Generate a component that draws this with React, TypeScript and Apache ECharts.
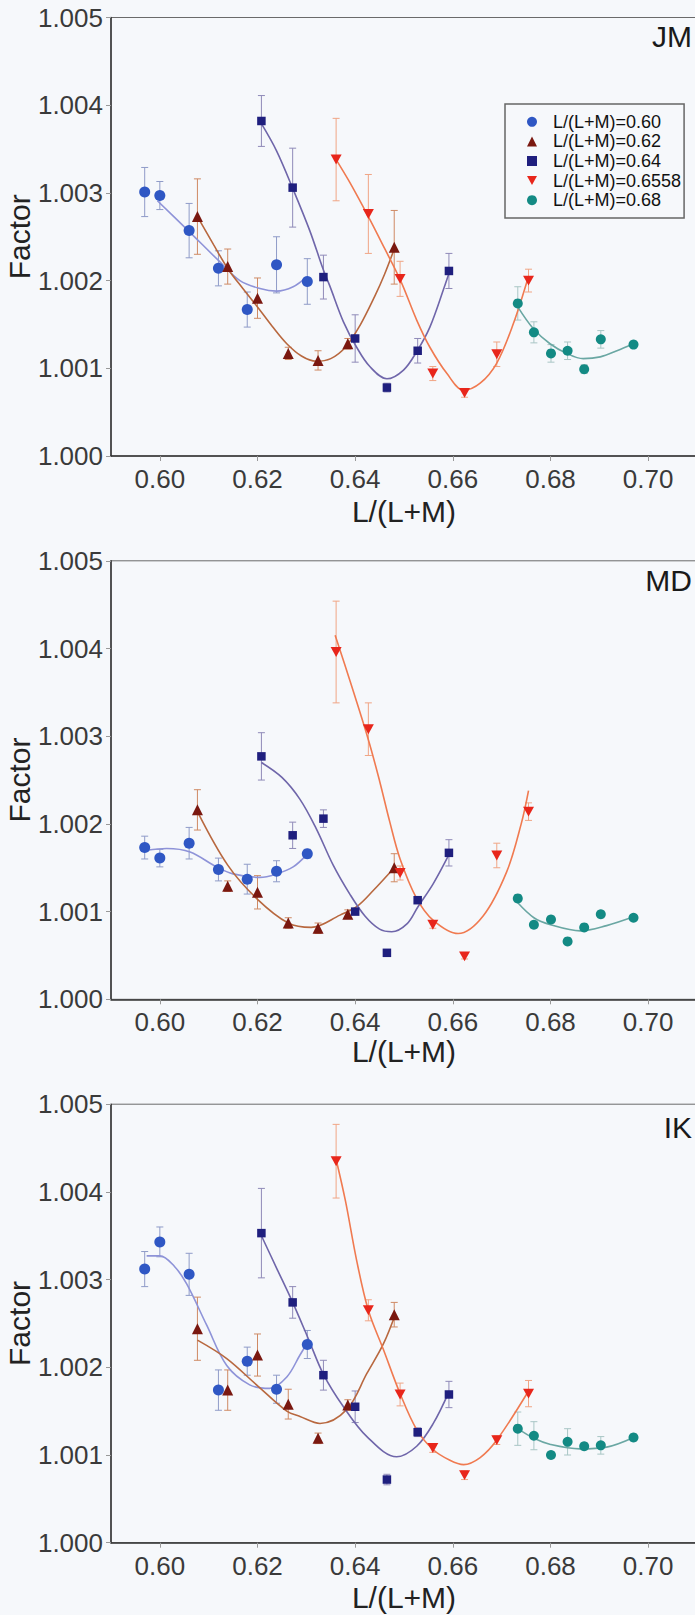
import React, { useEffect, useRef } from "react";
import * as echarts from "echarts";

// ---------- categories / labels ----------
const groupNames = ["L/(L+M)=0.60", "L/(L+M)=0.62", "L/(L+M)=0.64", "L/(L+M)=0.6558", "L/(L+M)=0.68"];
const panelNames = ["JM", "MD", "IK"];
const xTicks = [0.6, 0.62, 0.64, 0.66, 0.68, 0.7];
const xAxisTitle = "L/(L+M)";
const yAxisTitle = "Factor";

// ---------- x positions of the measured points (same for all observers) ----------
const x060 = [0.5969, 0.6, 0.606, 0.612, 0.6179, 0.6239, 0.6302];
const x062 = [0.6077, 0.6139, 0.62, 0.6263, 0.6324, 0.6385, 0.648];
const x064 = [0.6208, 0.6272, 0.6335, 0.64, 0.6465, 0.6528, 0.6592];
const x0658 = [0.6361, 0.6427, 0.6492, 0.6559, 0.6624, 0.669, 0.6755];
const x068 = [0.6733, 0.6766, 0.6801, 0.6835, 0.6869, 0.6903, 0.697];

// ---------- JM ----------
const jm060 = [1.00301, 1.00297, 1.00257, 1.00214, 1.00167, 1.00218, 1.00199];
const jm060Err = [0.00028, 0.00016, 0.00031, 0.0002, 0.0002, 0.00032, 0.00026];
const jm062 = [1.00273, 1.00216, 1.0018, 1.00117, 1.00109, 1.00128, 1.00238];
const jm062Err = [0.00043, 0.0002, 0.00023, 0.00007, 0.00011, 0.00006, 0.00042];
const jm064 = [1.00382, 1.00306, 1.00204, 1.00134, 1.00078, 1.0012, 1.00211];
const jm064Err = [0.00029, 0.00045, 0.00025, 0.00027, 0.00005, 0.00014, 0.0002];
const jm0658 = [1.00338, 1.00276, 1.00202, 1.00094, 1.00072, 1.00116, 1.002];
const jm0658Err = [0.00047, 0.00045, 0.0002, 0.00008, 0.00005, 0.00014, 0.00013];
const jm068 = [1.00174, 1.00141, 1.00117, 1.0012, 1.00099, 1.00133, 1.00127];
const jm068Err = [0.00019, 0.00012, 0.0001, 0.0001, 0.00005, 0.0001, 0.00004];

const jmFit060 = [[0.5995, 1.00291], [0.6058, 1.00257], [0.612, 1.00223], [0.6164, 1.002], [0.6205, 1.00191], [0.6239, 1.00188], [0.6273, 1.00193], [0.63, 1.00204]];
const jmFit062 = [[0.6077, 1.00273], [0.611, 1.00241], [0.614, 1.00213], [0.617, 1.00191], [0.62, 1.0017], [0.623, 1.00148], [0.626, 1.00128], [0.629, 1.00114], [0.632, 1.00108], [0.635, 1.00111], [0.638, 1.00124], [0.641, 1.00149], [0.644, 1.00182], [0.646, 1.00207], [0.648, 1.00236]];
const jmFit064 = [[0.6208, 1.00379], [0.6239, 1.00348], [0.6273, 1.00304], [0.6307, 1.00257], [0.6335, 1.00212], [0.6348, 1.00194], [0.6376, 1.00153], [0.6403, 1.00124], [0.643, 1.00102], [0.6465, 1.00088], [0.6499, 1.00098], [0.6526, 1.00119], [0.6553, 1.00147], [0.6584, 1.00195], [0.6592, 1.00208]];
const jmFit0658 = [[0.6361, 1.00338], [0.6389, 1.00312], [0.6427, 1.00273], [0.646, 1.00237], [0.6493, 1.002], [0.6526, 1.00155], [0.6553, 1.00124], [0.6588, 1.00094], [0.6622, 1.00075], [0.6656, 1.00083], [0.669, 1.00106], [0.6724, 1.00151], [0.6755, 1.00205]];
const jmFit068 = [[0.6733, 1.0017], [0.6765, 1.00145], [0.6799, 1.00128], [0.6833, 1.00117], [0.6867, 1.00111], [0.6902, 1.00113], [0.6936, 1.0012], [0.697, 1.00128]];

// ---------- MD ----------
const md060 = [1.00173, 1.00161, 1.00178, 1.00148, 1.00137, 1.00146, 1.00166];
const md060Err = [0.00013, 0.0001, 0.00018, 0.00013, 0.00017, 0.00012, 0.00005];
const md062 = [1.00216, 1.00129, 1.00122, 1.00087, 1.00081, 1.00097, 1.0015];
const md062Err = [0.00023, 0.00006, 0.00019, 0.00006, 0.00006, 0.00005, 0.00016];
const md064 = [1.00277, 1.00187, 1.00206, 1.001, 1.00053, 1.00113, 1.00167];
const md064Err = [0.00027, 0.00015, 0.0001, 0.00003, 0.00003, 0.00003, 0.00015];
const md0658 = [1.00396, 1.00308, 1.00144, 1.00085, 1.00049, 1.00164, 1.00214];
const md0658Err = [0.00058, 0.0003, 0.00008, 0.00004, 0.00003, 0.00014, 0.0001];
const md068 = [1.00115, 1.00085, 1.00091, 1.00066, 1.00082, 1.00097, 1.00093];
const md068Err = [0.00004, 0.00004, 0.00004, 0.00003, 0.00003, 0.00004, 0.00003];

const mdFit060 = [[0.5973, 1.0017], [0.6014, 1.00172], [0.6062, 1.00168], [0.6116, 1.00151], [0.615, 1.00143], [0.6205, 1.00139], [0.6239, 1.00143], [0.6273, 1.00151], [0.6301, 1.00165]];
const mdFit062 = [[0.6077, 1.00214], [0.6139, 1.00153], [0.62, 1.00114], [0.6263, 1.00087], [0.631, 1.00082], [0.6369, 1.00096], [0.6404, 1.00106], [0.6437, 1.00124], [0.648, 1.0015]];
const mdFit064 = [[0.6208, 1.0027], [0.625, 1.00253], [0.6287, 1.00228], [0.632, 1.00195], [0.6355, 1.00153], [0.6389, 1.0012], [0.642, 1.00095], [0.645, 1.0008], [0.6475, 1.00077], [0.6506, 1.00086], [0.6528, 1.00105], [0.656, 1.00132], [0.6592, 1.00165]];
const mdFit0658 = [[0.6359, 1.00415], [0.639, 1.00362], [0.6427, 1.00296], [0.645, 1.00249], [0.6471, 1.00202], [0.6492, 1.0016], [0.6525, 1.00116], [0.656, 1.0009], [0.6611, 1.00075], [0.6662, 1.00095], [0.671, 1.00145], [0.674, 1.002], [0.6755, 1.00238]];
const mdFit068 = [[0.6733, 1.0011], [0.6766, 1.00093], [0.68, 1.00085], [0.6861, 1.00078], [0.6915, 1.00084], [0.697, 1.00094]];

// ---------- IK ----------
const ik060 = [1.00312, 1.00343, 1.00306, 1.00174, 1.00207, 1.00175, 1.00226];
const ik060Err = [0.0002, 0.00017, 0.00024, 0.00023, 0.00016, 0.00016, 0.00016];
const ik062 = [1.00244, 1.00174, 1.00214, 1.00158, 1.00119, 1.00157, 1.0026];
const ik062Err = [0.00036, 0.00023, 0.00024, 0.00017, 0.00006, 0.00006, 0.00014];
const ik064 = [1.00353, 1.00274, 1.00191, 1.00155, 1.00072, 1.00126, 1.00169];
const ik064Err = [0.00051, 0.00018, 0.00017, 0.00018, 0.00006, 0.00005, 0.00015];
const ik0658 = [1.00435, 1.00265, 1.00169, 1.00108, 1.00077, 1.00117, 1.0017];
const ik0658Err = [0.00042, 0.00012, 0.00013, 0.00005, 0.00005, 0.00005, 0.00015];
const ik068 = [1.0013, 1.00122, 1.001, 1.00115, 1.0011, 1.00111, 1.0012];
const ik068Err = [0.00019, 0.00016, 0.00004, 0.00015, 0.00004, 0.0001, 0.00004];

const ikFit060 = [[0.5973, 1.00327], [0.6, 1.00327], [0.603, 1.00315], [0.6055, 1.00295], [0.6096, 1.00248], [0.6137, 1.00202], [0.6184, 1.0018], [0.6225, 1.00176], [0.626, 1.00189], [0.6287, 1.00214], [0.6302, 1.00228]];
const ikFit062 = [[0.6077, 1.00231], [0.6137, 1.0021], [0.6198, 1.0018], [0.626, 1.0015], [0.6287, 1.00144], [0.6328, 1.00136], [0.6383, 1.00152], [0.6424, 1.00193], [0.6458, 1.00227], [0.6482, 1.0026]];
const ikFit064 = [[0.6208, 1.0035], [0.624, 1.00312], [0.6272, 1.00274], [0.6303, 1.00234], [0.6335, 1.00192], [0.6376, 1.00155], [0.6424, 1.00121], [0.6485, 1.00098], [0.6526, 1.0011], [0.656, 1.00136], [0.6592, 1.00172]];
const ikFit0658 = [[0.6361, 1.00437], [0.638, 1.0039], [0.6403, 1.00322], [0.6427, 1.00265], [0.6458, 1.0022], [0.6492, 1.0017], [0.6526, 1.00129], [0.656, 1.00106], [0.6594, 1.00094], [0.6622, 1.00089], [0.6656, 1.00097], [0.669, 1.00117], [0.6755, 1.00173]];
const ikFit068 = [[0.6733, 1.0013], [0.6766, 1.00119], [0.68, 1.00112], [0.686, 1.00107], [0.6915, 1.00109], [0.697, 1.0012]];

const groupX = [x060, x062, x064, x0658, x068];
const panels = [
  { ys: [jm060, jm062, jm064, jm0658, jm068], errs: [jm060Err, jm062Err, jm064Err, jm0658Err, jm068Err], fits: [jmFit060, jmFit062, jmFit064, jmFit0658, jmFit068] },
  { ys: [md060, md062, md064, md0658, md068], errs: [md060Err, md062Err, md064Err, md0658Err, md068Err], fits: [mdFit060, mdFit062, mdFit064, mdFit0658, mdFit068] },
  { ys: [ik060, ik062, ik064, ik0658, ik068], errs: [ik060Err, ik062Err, ik064Err, ik0658Err, ik068Err], fits: [ikFit060, ikFit062, ikFit064, ikFit0658, ikFit068] },
];

// ---------- styles ----------
const FONT = "'Liberation Sans', Arial, Helvetica, sans-serif";
const BG = "#f6f8fb";
const markerColors = ["#2f57c4", "#7a1810", "#1f1f7e", "#e8261b", "#138a84"];
const fitColors = ["#8e93d8", "#b8683f", "#6f66aa", "#f07a50", "#6aa7a3"];
const errColors = ["#8f9bc8", "#cf8a64", "#8f8ab8", "#f0a585", "#a9c6c5"];
const DOWN_TRI = "path://M0,0L10,0L5,9Z";
const symbols = ["circle", "triangle", "rect", DOWN_TRI, "circle"];
const symbolSizes = [11, 11, 8.5, 11, 10];

const gridTops = [17.5, 560.8, 1104.2];
const gridHeight = 438.5;
const xNameGaps = [40, 34, 40];
const panelLabelY = [36, 580, 1127];

function buildOption() {
  const grid: any[] = [];
  const xAxis: any[] = [];
  const yAxis: any[] = [];
  const series: any[] = [];
  const graphic: any[] = [];

  panels.forEach((p, pi) => {
    grid.push({
      left: 111, top: gridTops[pi], width: 586, height: gridHeight,
      containLabel: false, outerBoundsMode: "none",
      show: true, borderColor: "#6a6a6a", borderWidth: 1, backgroundColor: "transparent",
    });
    xAxis.push({
      gridIndex: pi, type: "value", min: 0.59, max: 0.71,
      axisLine: { show: true, onZero: false, lineStyle: { color: "#333", width: 1.5 } },
      axisTick: { show: true, length: 5, customValues: xTicks, lineStyle: { color: "#999" } },
      axisLabel: { customValues: xTicks, formatter: (v: number) => v.toFixed(2), fontSize: 26, color: "#3a3a3a", margin: 10, fontFamily: FONT },
      splitLine: { show: false },
      name: xAxisTitle, nameLocation: "middle", nameGap: xNameGaps[pi],
      nameTextStyle: { fontSize: 30, color: "#222", fontFamily: FONT },
    });
    yAxis.push({
      gridIndex: pi, type: "value", min: 1.0, max: 1.005, interval: 0.001,
      axisLine: { show: true, onZero: false, lineStyle: { color: "#333", width: 1.5 } },
      axisTick: { show: true, length: 5, lineStyle: { color: "#999" } },
      axisLabel: { formatter: (v: number) => v.toFixed(3), fontSize: 26, color: "#3a3a3a", margin: 8, fontFamily: FONT },
      splitLine: { show: false },
      name: yAxisTitle, nameLocation: "middle", nameGap: 77, nameMoveOverlap: false,
      nameTextStyle: { fontSize: 30, color: "#222", fontFamily: FONT },
    });

    groupNames.forEach((name, gi) => {
      const xs = groupX[gi];
      const ys = p.ys[gi];
      const es = p.errs[gi];
      const ec = errColors[gi];
      series.push({
        type: "custom", name: name + " error", xAxisIndex: pi, yAxisIndex: pi, z: 2, silent: true,
        data: xs.map((x, i) => [x, ys[i], es[i]]),
        encode: { x: 0, y: 1 },
        renderItem: (_params: any, api: any) => {
          const x = api.value(0), y = api.value(1), e = api.value(2);
          const top = api.coord([x, y + e]);
          const bot = api.coord([x, y - e]);
          const w = 3.5;
          const st = { stroke: ec, lineWidth: 1 };
          return {
            type: "group",
            children: [
              { type: "line", shape: { x1: top[0], y1: top[1], x2: bot[0], y2: bot[1] }, style: st },
              { type: "line", shape: { x1: top[0] - w, y1: top[1], x2: top[0] + w, y2: top[1] }, style: st },
              { type: "line", shape: { x1: bot[0] - w, y1: bot[1], x2: bot[0] + w, y2: bot[1] }, style: st },
            ],
          };
        },
      });
      series.push({
        type: "line", name: name + " fit", xAxisIndex: pi, yAxisIndex: pi, z: 3, silent: true,
        data: p.fits[gi], smooth: 0.35, showSymbol: false, symbol: "none",
        lineStyle: { color: fitColors[gi], width: 1.6 },
      });
      series.push({
        type: "scatter", name, xAxisIndex: pi, yAxisIndex: pi, z: 4,
        data: xs.map((x, i) => [x, ys[i]]),
        symbol: symbols[gi], symbolSize: symbolSizes[gi], symbolKeepAspect: true,
        itemStyle: { color: markerColors[gi], opacity: 1 },
      });
    });

    graphic.push({
      type: "text", x: 692, y: panelLabelY[pi],
      style: { text: panelNames[pi], fontSize: 30, fontFamily: FONT, fill: "#1a1a1a", textAlign: "right", textVerticalAlign: "middle" },
    });
  });

  return {
    animation: false,
    backgroundColor: BG,
    grid, xAxis, yAxis, series, graphic,
    legend: {
      show: true, orient: "vertical", left: 505, top: 104,
      data: groupNames.map((n, gi) => ({ name: n, icon: symbols[gi] })),
      padding: [8, 3, 8, 22],
      itemGap: 0, itemWidth: 10, itemHeight: 10,
      borderColor: "#666", borderWidth: 1.5, backgroundColor: "transparent",
      selectedMode: false,
      textStyle: { fontSize: 18, fontFamily: FONT, color: "#111", lineHeight: 19.6, padding: [0, 0, 0, 11] },
    },
  };
}

export default function App() {
  const ref = useRef<HTMLDivElement>(null);
  useEffect(() => {
    document.body.style.margin = "0";
    document.body.style.background = BG;
    if (!ref.current) return;
    const chart = echarts.init(ref.current, null, { renderer: "svg" });
    chart.setOption(buildOption() as any);
    return () => chart.dispose();
  }, []);
  return <div ref={ref} style={{ width: 695, height: 1615, background: BG }} />;
}
